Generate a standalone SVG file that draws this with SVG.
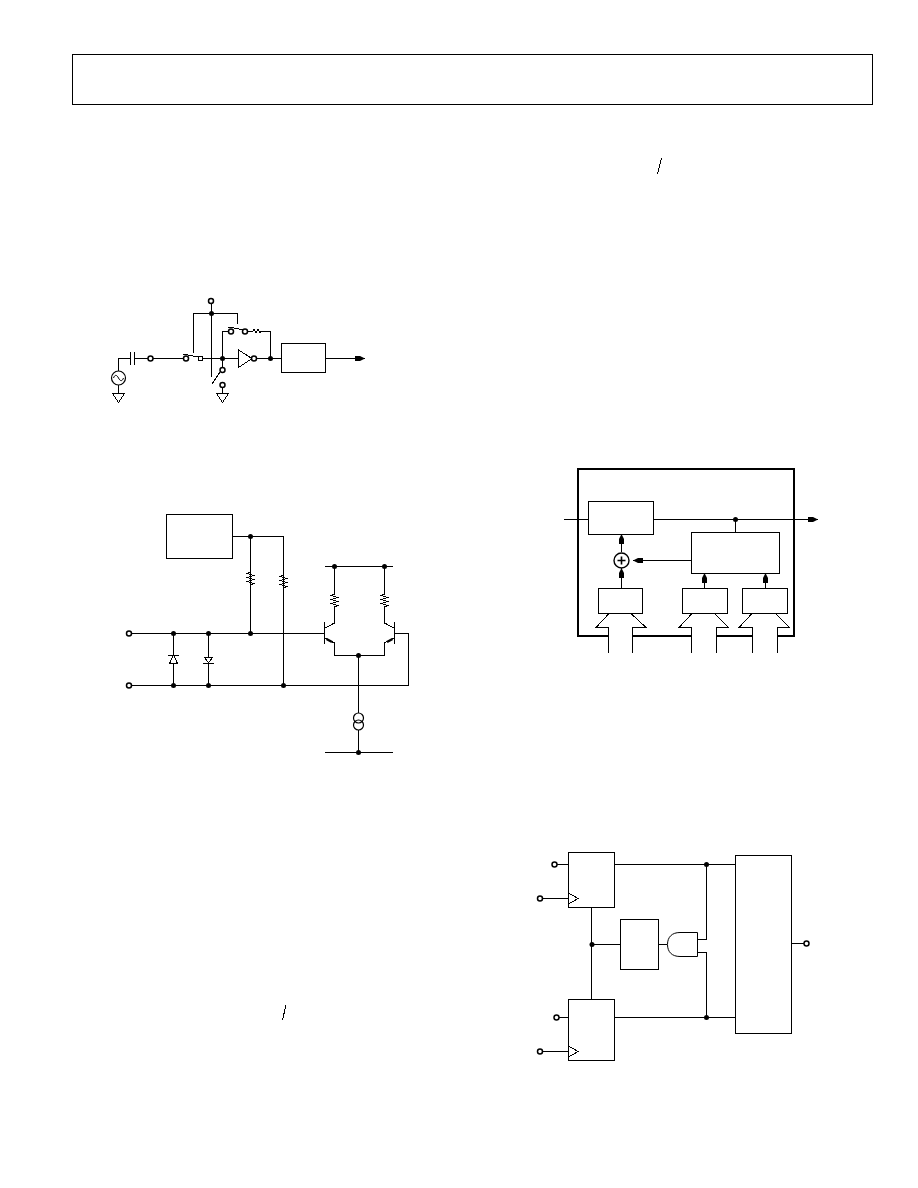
<svg xmlns="http://www.w3.org/2000/svg" width="918" height="1188" viewBox="0 0 918 1188">
<style>
.l{fill:none;stroke:#000;stroke-width:1;shape-rendering:crispEdges}
.b{fill:#fff;stroke:#000;stroke-width:1;shape-rendering:crispEdges}
.o{fill:#fff;stroke:#000;stroke-width:1.500}
.d{fill:#000;stroke:none}
.t{fill:none;stroke:#000;stroke-width:2;shape-rendering:crispEdges}
</style>
<defs>
<marker id="ah" viewBox="0 0 10 6" refX="10" refY="3" markerWidth="10" markerHeight="6" markerUnits="userSpaceOnUse" orient="auto"><path d="M0 0.500H5L10 3L5 5.500H0Z" fill="#000"/></marker>
<g id="dot"><circle r="2.500" class="d"/></g>
<g id="hole"><circle r="2.500" class="o"/></g>
<path id="rv" class="l" d="M0 0L-3 1.500L3 3.500L-3 5.500L3 7.500L-3 9.500L3 11.500L0 13"/>
<path id="gnd" class="b" d="M-6 0H6L0 9Z"/>
</defs>
<rect id="header" x="72.500" y="54.500" width="800" height="50" class="l"/>
<path id="slash-1" class="l" d="M661.500 158L657.500 174"/>
<path id="slash-2" class="l" d="M286 1005L282.500 1020"/>

<g id="connectors">
<path class="l" d="M118.500 371V358.500H130M134 358.500H148M152 358.500H183M203 358.500H238M256 358.500H281"/>
<path class="l" d="M130.500 352V365M134.500 352V365"/>
<path class="l" d="M211.500 304V377M193.500 353V313.500H237.500V324"/>
<path class="l" d="M222.500 358V331.500H229M247 331.500H253M261 331.500H270.500V358"/>
<path class="l" d="M222.500 358V367M222.500 387V393M118.500 385V393"/>
<path class="l" d="M183 354L198 357M228 327L245 330M222 369L212 384"/>
<path class="l" marker-end="url(#ah)" d="M326 358.500H365"/>

<path class="l" d="M232 536.500H283.500V685.500M250.500 536.500V633"/>
<path class="l" d="M132 633.500H324M132 685.500H408.500V633.500H394"/>
<path class="l" d="M173.500 633V655M173.500 663V685.500M208.500 633V657M208.500 663V685.500"/>
<path class="l" d="M325 566.500H393M334.500 566V594M384.500 566V594M334.500 607V623L325 628M384.500 607V623L394 628"/>
<path class="l" d="M325 638L334.500 643V655.500H384.500V643L394 638"/>
<path class="l" d="M358.500 655V713M358.500 730V752M325 752.500H393"/>

<path class="l" d="M564 519.500H588M653 519.500H818" marker-end="url(#ah)"/>
<path class="l" d="M735.500 519V532"/>
<path class="l" marker-end="url(#ah)" d="M621.500 552V534"/>
<path class="l" marker-end="url(#ah)" d="M621.500 588V568"/>
<path class="l" marker-end="url(#ah)" d="M692 560.500H633"/>
<path class="l" marker-end="url(#ah)" d="M704.500 588V573"/>
<path class="l" marker-end="url(#ah)" d="M765.500 588V573"/>

<path class="l" d="M614 864.500H735M706.500 864V939.500H697M697 952.500H706.500V1017M614 1017.500H735"/>
<path class="l" d="M557 864.500H568M543 898.500H568M559 1017.500H568M543 1051.500H568"/>
<path class="l" d="M591.500 907V999M592 944.500H620M659 944.500H667M792 943.500H804"/>
</g>

<g id="source"><circle cx="118.500" cy="378" r="7" fill="#fff" stroke="#000" stroke-width="1.200"/><path d="M113.500 378C115 374 117 375 118.500 378C120 381 122 382 123.500 378" fill="none" stroke="#000"/><use href="#gnd" x="118.500" y="393.500"/></g>
<g id="input-pin"><use href="#hole" x="150.500" y="358.500"/></g>
<g id="vbias-pin"><use href="#hole" x="211" y="301"/><use href="#dot" x="211.500" y="313.500"/></g>
<g id="switch-1"><use href="#hole" x="186" y="358.500"/><rect x="198.500" y="356.500" width="4" height="4" class="b"/></g>
<g id="feedback"><use href="#hole" x="231" y="331.500"/><use href="#hole" x="245" y="331.500"/><path class="l" d="M253 331L254 329L256 333L258 329L260 333L261 331"/></g>
<g id="switch-2"><use href="#hole" x="222.500" y="370"/><use href="#hole" x="222.500" y="385"/><use href="#gnd" x="222.500" y="393.500"/></g>
<g id="amp"><path class="b" d="M238.500 350V367.500L252 358.500Z"/><use href="#hole" x="254" y="358.500"/><use href="#dot" x="222.500" y="358.500"/><use href="#dot" x="270.500" y="358.500"/></g>
<rect id="adc-box" x="281.500" y="343.500" width="44" height="29" class="b"/>

<rect id="vref-box" x="166.500" y="514.500" width="66" height="44" class="b"/>
<g id="bias-network"><use href="#dot" x="250.500" y="536.500"/><use href="#rv" x="250.500" y="572"/><use href="#rv" x="283.500" y="575"/><use href="#dot" x="250.500" y="633.500"/><use href="#dot" x="283.500" y="685.500"/></g>
<g id="input-pins"><use href="#hole" x="129" y="633.500"/><use href="#hole" x="129" y="685.500"/><use href="#dot" x="173.500" y="633.500"/><use href="#dot" x="173.500" y="685.500"/><use href="#dot" x="208.500" y="633.500"/><use href="#dot" x="208.500" y="685.500"/></g>
<g id="diode-1"><path class="b" d="M173.500 655L169.500 663.500H177.500Z"/><path class="l" d="M168 655.500H179"/></g>
<g id="diode-2"><path class="b" d="M204.500 657.500H212.500L208.500 663Z"/><path class="l" d="M203 663.500H214"/></g>
<g id="transistors"><use href="#dot" x="334.500" y="566.500"/><use href="#dot" x="384.500" y="566.500"/><use href="#rv" x="334.500" y="594"/><use href="#rv" x="384.500" y="594"/><path class="l" d="M324.500 622V644M394.500 622V644"/><path d="M326.500 639L332 642M392.500 639L387 642" fill="none" stroke="#000" stroke-width="2.500"/><use href="#dot" x="358.500" y="655.500"/></g>
<g id="current-source"><circle cx="358.500" cy="718" r="5" fill="#fff" stroke="#000" stroke-width="1.200"/><circle cx="358.500" cy="725" r="5" fill="none" stroke="#000" stroke-width="1.200"/><use href="#dot" x="358.500" y="752.500"/></g>

<g id="dds-outer"><path class="t" d="M609 636H578V469H794V636H778M752 636H717M692 636H632.500"/></g>
<rect id="phase-box" x="588.500" y="501.500" width="65" height="33" class="b"/>
<rect id="ctrl-box" x="691.500" y="532.500" width="88" height="41" class="b"/>
<g id="adder"><circle cx="621.500" cy="560.500" r="7.500" fill="#fff" stroke="#000" stroke-width="1.400"/><path d="M617.500 560.500H625.500M621.500 556.500V564.500" fill="none" stroke="#000" stroke-width="1.600"/></g>
<use id="out-dot" href="#dot" x="735.500" y="519.500"/>
<rect id="reg-1" x="598.500" y="588.500" width="44" height="25" class="b"/>
<rect id="reg-2" x="682.500" y="588.500" width="44.500" height="25" class="b"/>
<rect id="reg-3" x="742.500" y="588.500" width="44.500" height="25" class="b"/>
<path id="bus-1" class="l" d="M609 613.500L596 627.500H608.500V653M632.500 653V627.500H646L631 613.500"/>
<path id="bus-2" class="l" d="M692 613.500L679 627.500H691.500V653M716.500 653V627.500H728.500L714.500 613.500"/>
<path id="bus-3" class="l" d="M752 613.500L739 627.500H752.500V653M777.500 653V627.500H789.500L775.500 613.500"/>

<g id="ff-1"><rect x="568.500" y="852.500" width="46" height="55" class="b"/><path class="l" d="M568.500 893L578 898.500L568.500 904"/><use href="#hole" x="554.500" y="864.500"/><use href="#hole" x="540" y="898.500"/></g>
<g id="ff-2"><rect x="568.500" y="999.500" width="46" height="61" class="b"/><path class="l" d="M568.500 1046L578 1051.500L568.500 1057"/><use href="#hole" x="556.500" y="1017.500"/><use href="#hole" x="540" y="1051.500"/></g>
<rect id="delay-box" x="620.500" y="919.500" width="38" height="50" class="b"/>
<path id="and-gate" d="M697.500 932.500H680C672 932.500 667.500 937 667.500 944.500C667.500 952 672 956.500 680 956.500H697.500Z" fill="#fff" stroke="#000"/>
<rect id="mux-box" x="735.500" y="855.500" width="56" height="178" class="b"/>
<g id="junctions"><use href="#dot" x="592" y="944.500"/><use href="#dot" x="706.500" y="864.500"/><use href="#dot" x="706.500" y="1017.500"/></g>
<use id="out-pin" href="#hole" x="806.500" y="943.500"/>
</svg>
